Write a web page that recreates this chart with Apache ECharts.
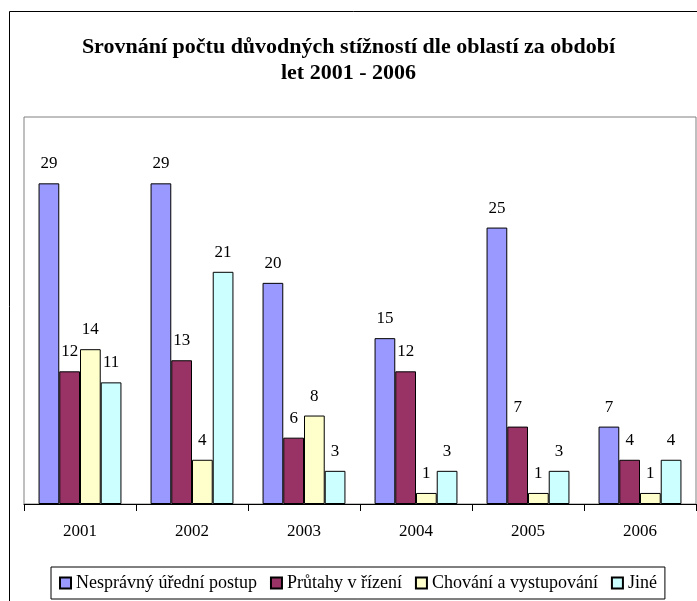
<!DOCTYPE html>
<html>
<head>
<meta charset="utf-8">
<script src="https://cdn.jsdelivr.net/npm/echarts@6/dist/echarts.min.js"></script>
<style>
html,body{margin:0;padding:0;background:#fff;}
#chart{width:697px;height:601px;}
</style>
</head>
<body>
<div id="chart"></div>
<script>
var categories = ['2001', '2002', '2003', '2004', '2005', '2006'];
var seriesNames = ['Nesprávný úřední postup', 'Průtahy v řízení', 'Chování a vystupování', 'Jiné'];
var nespravny = [29, 29, 20, 15, 25, 7];
var prutahy = [12, 13, 6, 12, 7, 4];
var chovani = [14, 4, 8, 1, 1, 1];
var jine = [11, 21, 3, 3, 3, 4];
var colors = ['#9999FF', '#993366', '#FFFFCC', '#CCFFFF'];
var titleLines = ['Srovnání počtu důvodných stížností dle oblastí za období', 'let 2001 - 2006'];

var FONT = '"Liberation Serif", "Times New Roman", serif';
var values = [nespravny, prutahy, chovani, jine];

var chart = echarts.init(document.getElementById('chart'), null, {renderer: 'canvas'});
var titleStyle = {fontFamily: FONT, fontSize: 22, fontWeight: 'bold', color: '#000', lineHeight: 26};
var option = {
  animation: false,
  backgroundColor: '#fff',
  title: [
    {text: titleLines[0], left: 'center', top: 34, padding: 0, textStyle: titleStyle},
    {text: titleLines[1], left: 'center', top: 60, padding: 0, textStyle: titleStyle}
  ],
  graphic: [{
    type: 'rect',
    shape: {x: 9.5, y: 11.5, width: 700, height: 700},
    style: {fill: 'none', stroke: '#000', lineWidth: 1},
    silent: true,
    z: 100
  }],
  legend: {
    left: 51,
    top: 567,
    padding: [7, 8],
    itemGap: 13,
    itemWidth: 11,
    itemHeight: 11,
    borderColor: '#000',
    borderWidth: 1,
    icon: 'rect',
    textStyle: {fontFamily: FONT, fontSize: 18, color: '#000'},
    data: seriesNames
  },
  grid: {
    left: 24, right: 1, top: 117, bottom: 97,
    show: true,
    borderColor: '#808080',
    borderWidth: 1
  },
  xAxis: {
    type: 'category',
    data: categories,
    axisLine: {lineStyle: {color: '#000', width: 1}},
    axisTick: {show: true, length: 7, lineStyle: {color: '#000'}},
    axisLabel: {fontFamily: FONT, fontSize: 17, color: '#000', margin: 19}
  },
  yAxis: {
    type: 'value',
    min: 0,
    max: 35,
    show: false
  },
  series: seriesNames.map(function (name, i) {
    return {
      name: name,
      type: 'bar',
      data: values[i],
      barGap: '0%',
      barCategoryGap: '26%',
      itemStyle: {color: colors[i], borderColor: '#000', borderWidth: 1},
      label: {
        show: true,
        position: 'top',
        distance: 11,
        fontFamily: FONT,
        fontSize: 17,
        color: '#000'
      }
    };
  })
};
chart.setOption(option);
</script>
</body>
</html>
